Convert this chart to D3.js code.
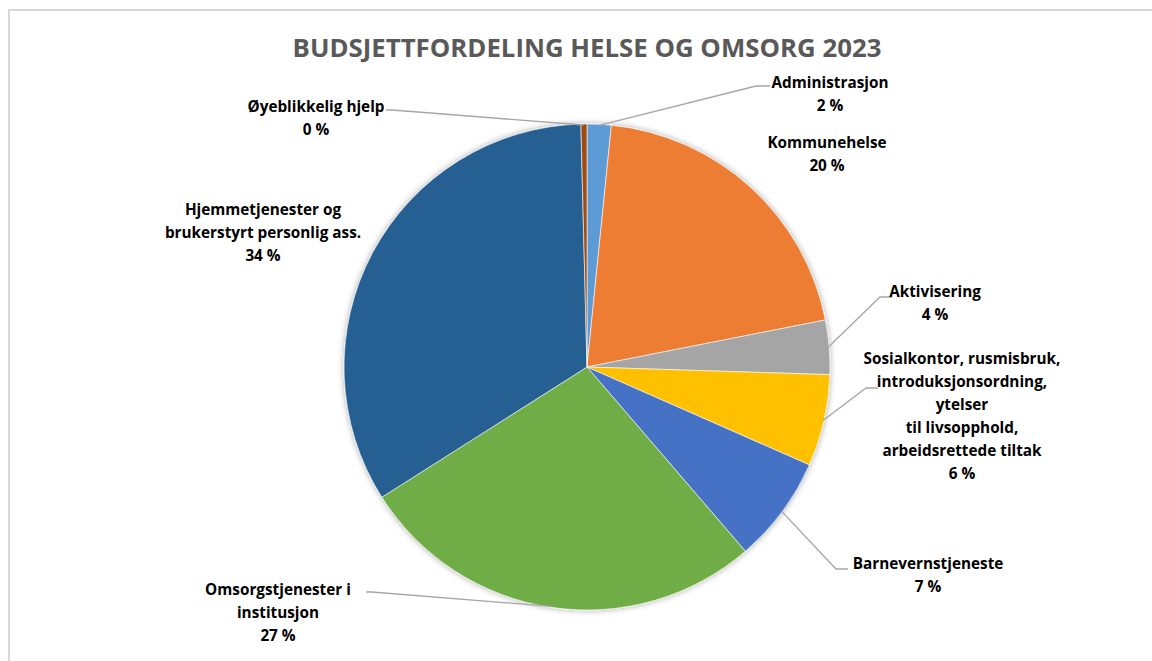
<!DOCTYPE html>
<html>
<head>
<meta charset="utf-8">
<script src="https://cdn.jsdelivr.net/npm/d3@7/dist/d3.min.js"></script>
<style>
  html, body { margin: 0; padding: 0; background: #fff; }
  svg { display: block; }
</style>
</head>
<body>
<svg id="chart" width="1152" height="661"></svg>
<script>
// ---- Data ----
const title = "BUDSJETTFORDELING HELSE OG OMSORG 2023";
const categories = [
  "Administrasjon",
  "Kommunehelse",
  "Aktivisering",
  "Sosialkontor, rusmisbruk, introduksjonsordning, ytelser til livsopphold, arbeidsrettede tiltak",
  "Barnevernstjeneste",
  "Omsorgstjenester i institusjon",
  "Hjemmetjenester og brukerstyrt personlig ass.",
  "Øyeblikkelig hjelp"
];
const values = [1.6, 20.3, 3.6, 6.1, 7.1, 27.3, 33.6, 0.4];
const percentLabels = ["2 %", "20 %", "4 %", "6 %", "7 %", "27 %", "34 %", "0 %"];
const colors = ["#5B9BD5", "#ED7D31", "#A5A5A5", "#FFC000", "#4472C4", "#70AD47", "#255E91", "#9E480E"];

// ---- Layout (not data) ----
const labelLines = [
  ["Administrasjon"],
  ["Kommunehelse"],
  ["Aktivisering"],
  ["Sosialkontor, rusmisbruk,", "introduksjonsordning,", "ytelser", "til livsopphold,", "arbeidsrettede tiltak"],
  ["Barnevernstjeneste"],
  ["Omsorgstjenester i", "institusjon"],
  ["Hjemmetjenester og", "brukerstyrt personlig ass."],
  ["Øyeblikkelig hjelp"]
];
const labelLayout = [
  { x: 830, y: 88,  leader: { elbow: [756, 86],  end: [770, 86] } },
  { x: 827, y: 148, leader: null },
  { x: 935, y: 297, leader: { elbow: [880, 297], end: [892, 297] } },
  { x: 962, y: 364, leader: { elbow: [866, 388], end: [878, 388] } },
  { x: 928, y: 569, leader: { elbow: [836, 569], end: [848, 569] } },
  { x: 278, y: 595, leader: { elbow: [372, 592], end: [366, 592] } },
  { x: 263, y: 215, leader: null },
  { x: 316, y: 112, leader: { elbow: [392, 110], end: [386, 110] } }
];

const W = 1152, H = 661;
const cx = 587, cy = 367, R = 243;
const svg = d3.select("#chart");

svg.append("rect")
  .attr("x", 9).attr("y", 10).attr("width", W + 10).attr("height", H + 10)
  .attr("fill", "#fff").attr("stroke", "#d9d9d9").attr("stroke-width", 2);

const defs = svg.append("defs");
const f = defs.append("filter").attr("id", "shadow").attr("x", "-10%").attr("y", "-10%").attr("width", "120%").attr("height", "120%");
f.append("feGaussianBlur").attr("in", "SourceAlpha").attr("stdDeviation", 3).attr("result", "blur");
f.append("feOffset").attr("in", "blur").attr("dx", 0).attr("dy", 0).attr("result", "off");
f.append("feComponentTransfer").attr("in", "off").attr("result", "shadow")
  .append("feFuncA").attr("type", "linear").attr("slope", 0.35);
const fm = f.append("feMerge");
fm.append("feMergeNode").attr("in", "shadow");
fm.append("feMergeNode").attr("in", "SourceGraphic");

svg.append("text")
  .attr("x", cx).attr("y", 57)
  .attr("text-anchor", "middle")
  .attr("font-family", "'Open Sans', 'Liberation Sans', sans-serif")
  .attr("font-weight", 700)
  .attr("font-size", 25.8)
  .attr("fill", "#595959")
  .text(title);

const data = categories.map((c, i) => ({ name: c, value: values[i], color: colors[i], pct: percentLabels[i], i }));
const pie = d3.pie().sort(null).value(d => d.value);
const arcs = pie(data);
const arc = d3.arc().innerRadius(0).outerRadius(R);

const g = svg.append("g").attr("transform", `translate(${cx},${cy})`);
g.append("g").attr("filter", "url(#shadow)")
  .selectAll("path").data(arcs).join("path")
  .attr("d", arc)
  .attr("fill", d => d.data.color)
  .attr("stroke", "#fff")
  .attr("stroke-width", 0.6);

const edgeArc = d3.arc().innerRadius(R - 1).outerRadius(R - 1);
const leaderG = svg.append("g");
arcs.forEach((a, i) => {
  const L = labelLayout[i].leader;
  if (!L) return;
  const [px, py] = edgeArc.centroid(a);
  leaderG.append("polyline")
    .attr("points", [[cx + px, cy + py], L.elbow, L.end].map(p => p.join(",")).join(" "))
    .attr("fill", "none")
    .attr("stroke", "#a6a6a6")
    .attr("stroke-width", 1.3);
});

const lineH = 23;
const labG = svg.append("g")
  .attr("font-family", "'Open Sans', 'Liberation Sans', sans-serif")
  .attr("font-weight", 700)
  .attr("font-size", 15.3)
  .attr("fill", "#000")
  .attr("text-anchor", "middle");
data.forEach((d, i) => {
  const lay = labelLayout[i];
  const t = labG.append("text").attr("x", lay.x).attr("y", lay.y);
  const lines = labelLines[i].concat([d.pct]);
  lines.forEach((ln, k) => {
    t.append("tspan").attr("x", lay.x).attr("dy", k === 0 ? 0 : lineH).text(ln);
  });
});
</script>
</body>
</html>
